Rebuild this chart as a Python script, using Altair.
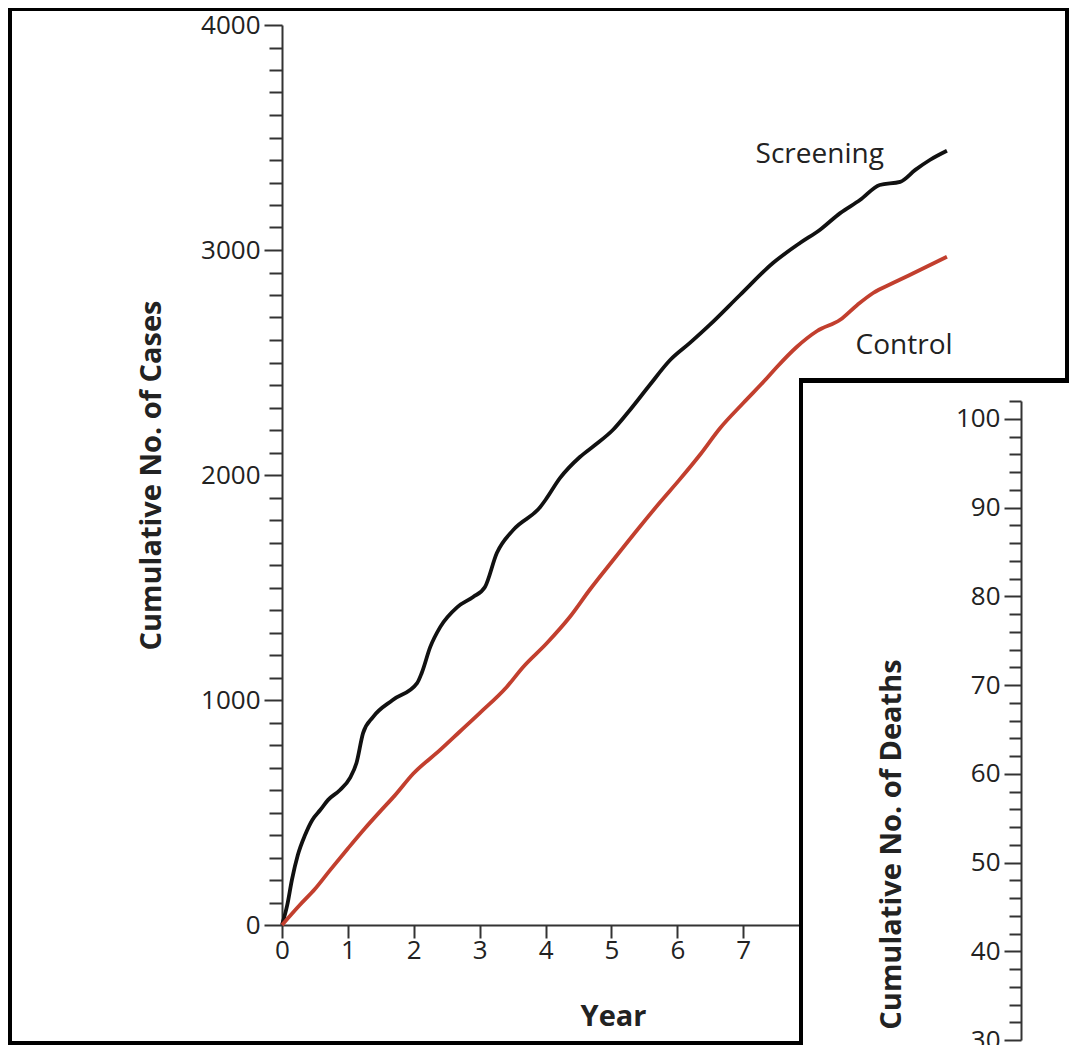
import altair as alt
import pandas as pd

# ---------------- data ----------------
screen_years = [0, 0.08, 0.15, 0.24, 0.35, 0.46, 0.58, 0.70, 0.88, 1.03, 1.13, 1.23, 1.38,
                1.68, 2.05, 2.12, 2.25, 2.40, 2.66, 2.90, 3.08, 3.26, 3.51, 3.92, 4.0, 4.22,
                4.52, 4.75, 5.02, 5.28, 5.58, 5.89, 6.19, 6.49, 6.95, 7.45, 7.86, 8.16, 8.47,
                8.77, 9.07, 9.38, 9.61, 9.83, 10.09]
screen_cases = [0, 89, 200, 311, 400, 467, 511, 556, 600, 653, 720, 853, 924,
                1000, 1075, 1120, 1236, 1324, 1413, 1458, 1502, 1653, 1756, 1858, 1890, 1987,
                2080, 2133, 2200, 2289, 2400, 2511, 2587, 2667, 2800, 2942, 3031, 3089, 3164,
                3222, 3289, 3303, 3356, 3400, 3441]

control_years = [0, 0.27, 0.50, 0.73, 1.0, 1.26, 1.49, 1.71, 1.99, 2.40, 2.70, 3.0, 3.41,
                 3.66, 4.01, 4.37, 4.67, 5.02, 5.43, 5.74, 6.02, 6.34, 6.65, 7.0, 7.36, 7.51,
                 7.81, 8.12, 8.47, 8.73, 8.97, 9.27, 9.68, 10.09]
control_cases = [0, 89, 160, 244, 340, 430, 505, 575, 672, 778, 860, 942, 1058,
                 1147, 1250, 1370, 1490, 1620, 1770, 1880, 1975, 2089, 2209, 2320, 2431, 2480,
                 2569, 2640, 2690, 2756, 2809, 2853, 2911, 2970]

group_names = ["Screening", "Control"]
group_colors = ["#111111", "#c23f2e"]

label_text = ["Screening", "Control"]
label_years = [8.16, 9.44]
label_cases = [3422, 2573]

year_ticks = list(range(0, 8))          # ticks beyond 7 are hidden by the overlapping window
case_ticks = list(range(0, 4001, 100))
death_ticks = list(range(30, 103, 2))
death_domain = [30, 102]

# ---------------- tables ----------------
lines_df = pd.DataFrame({
    "Year": screen_years + control_years,
    "Cases": screen_cases + control_cases,
    "Group": ["Screening"] * len(screen_years) + ["Control"] * len(control_years),
})
labels_df = pd.DataFrame({"Year": label_years, "Cases": label_cases, "Label": label_text})
deaths_df = pd.DataFrame({"Deaths": death_domain})
one = pd.DataFrame({"k": [0]})

FONT = "Open Sans"
INK = "#222222"
AX = "#333333"

W, H = 739, 900          # plot area
OX, OY = 282, 25         # plot origin on the page

x_scale = alt.Scale(domain=[0, 11.214], nice=False, zero=False)
y_scale = alt.Scale(domain=[0, 4000], nice=False)

x_axis = alt.Axis(values=year_ticks, title="Year", format="d", grid=False, labelFlush=False,
                  labelOverlap=False,
                  domainColor=AX, domainWidth=2, tickColor=AX, tickWidth=2, tickSize=13,
                  labelFont=FONT, labelFontSize=26, labelColor=INK, labelPadding=-1,
                  titleFont=FONT, titleFontSize=29, titleFontWeight="bold", titleColor=INK,
                  titleX=331, titleY=100, titleBaseline="alphabetic", titleAlign="center",
                  zindex=0)
y_axis = alt.Axis(values=case_ticks, title="Cumulative No. of Cases", format="d", grid=False,
                  labelFlush=False, labelOverlap=False,
                  labelExpr="datum.value % 1000 === 0 ? datum.label : ''",
                  domainColor=AX, domainWidth=2, tickColor=AX, tickWidth=2,
                  tickSize={"condition": {"test": "datum.value % 1000 === 0", "value": 18}, "value": 13},
                  labelFont=FONT, labelFontSize=26, labelColor=INK, labelPadding=4,
                  labelBaseline="middle",
                  titleFont=FONT, titleFontSize=29, titleFontWeight="bold", titleColor=INK,
                  titleAngle=270, titleX=-122, titleY=450, titleBaseline="alphabetic",
                  titleAlign="center", zindex=0)

lines = alt.Chart(lines_df).mark_line(strokeWidth=3.8, interpolate="monotone").encode(
    x=alt.X("Year:Q", scale=x_scale, axis=x_axis),
    y=alt.Y("Cases:Q", scale=y_scale, axis=y_axis),
    color=alt.Color("Group:N", scale=alt.Scale(domain=group_names, range=group_colors), legend=None),
    detail="Group:N",
)

texts = alt.Chart(labels_df).mark_text(font=FONT, fontSize=28, color=INK,
                                       align="center", baseline="middle").encode(
    x=alt.X("Year:Q", scale=x_scale, axis=x_axis),
    y=alt.Y("Cases:Q", scale=y_scale, axis=y_axis),
    text="Label:N",
)


def box(x1, x2, y1, y2, color):
    # page-pixel decoration (window frames of the screenshot)
    return alt.Chart(one).mark_rect(color=color).encode(
        x=alt.value(x1 - OX), x2=alt.value(x2 - OX),
        y=alt.value(y1 - OY), y2=alt.value(y2 - OY))


panel = box(799, 1069, 378, 1045, "white")
frames = [
    box(799, 1069, 378, 383, "black"),   # top edge of the overlapping window
    box(799, 803, 378, 1045, "black"),   # left edge of the overlapping window
    box(8, 12, 8, 1045, "black"),        # outer window left
    box(8, 1069, 8, 11, "black"),        # outer window top
    box(1065, 1069, 8, 378, "black"),    # outer window right
    box(8, 799, 1041, 1045, "black"),    # outer window bottom
]

main = alt.layer(lines, texts, panel, *frames)

death_axis = alt.Axis(values=death_ticks, title="Cumulative No. of Deaths", format="d", grid=False,
                      orient="left", offset=-W, zindex=2, labelFlush=False, labelOverlap=False,
                      labelExpr="datum.value % 10 === 0 ? datum.label : ''",
                      domainColor=AX, domainWidth=2, tickColor=AX, tickWidth=2,
                      tickSize={"condition": {"test": "datum.value % 10 === 0", "value": 17}, "value": 12},
                      labelFont=FONT, labelFontSize=26, labelColor=INK, labelPadding=4,
                      labelBaseline="middle",
                      titleFont=FONT, titleFontSize=29, titleFontWeight="bold", titleColor=INK,
                      titleAngle=270, titleX=-121, titleY=819, titleBaseline="alphabetic",
                      titleAlign="center")

deaths = alt.Chart(deaths_df).mark_point(opacity=0).encode(
    y=alt.Y("Deaths:Q",
            scale=alt.Scale(domain=death_domain, range=[1040 - OY, 401 - OY], nice=False, zero=False),
            axis=death_axis)
)

chart = alt.layer(main, deaths).resolve_scale(y="independent").properties(
    width=W, height=H,
    autosize=alt.AutoSizeParams(type="none"),
    padding={"left": OX - 8, "top": OY - 8, "right": 1069 - (OX + W), "bottom": 1045 - (OY + H)},
    background="white",
).configure_view(stroke=None)

chart.save("out.html", embed_options={"renderer": "svg", "actions": False})
